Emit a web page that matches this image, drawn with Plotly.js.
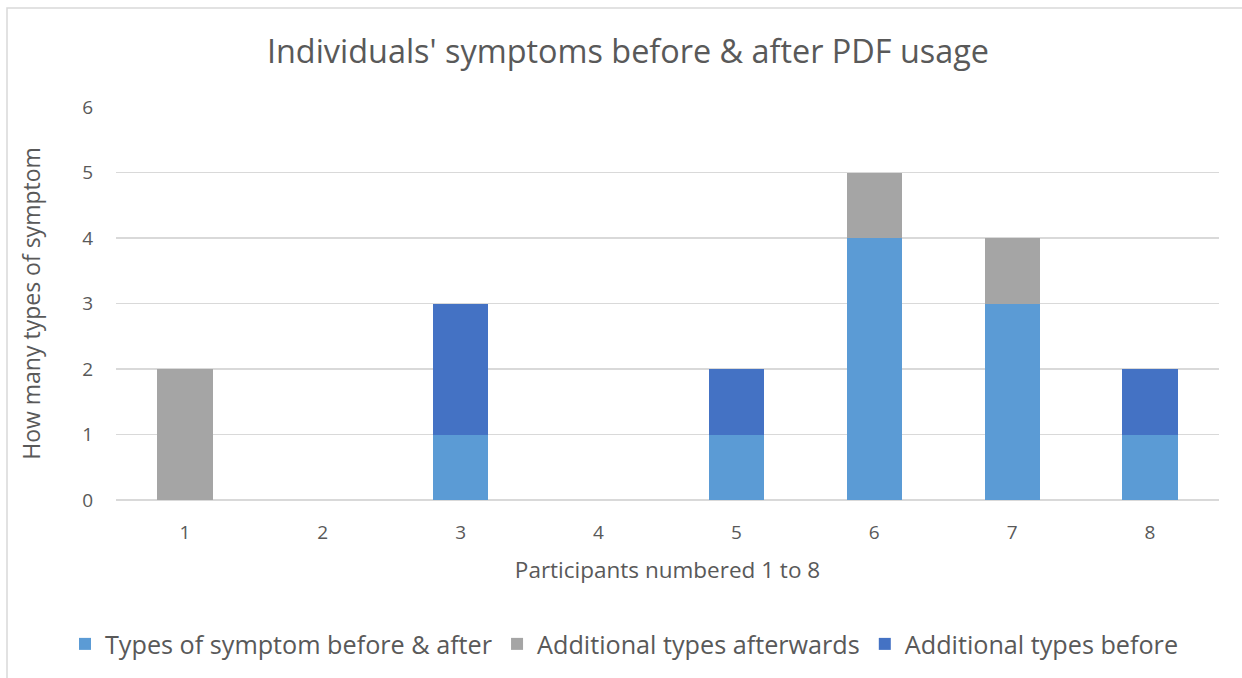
<!DOCTYPE html>
<html>
<head>
<meta charset="utf-8">
<script src="https://cdn.plot.ly/plotly-3.0.1.min.js"></script>
<style>html,body{margin:0;padding:0;background:#fff;}#chart{width:1242px;height:678px;}</style>
</head>
<body>
<div id="chart"></div>
<script>
var participants = ["1","2","3","4","5","6","7","8"];
var beforeAndAfter = [0, 0, 1, 0, 1, 4, 3, 1];
var additionalAfterwards = [2, 0, 0, 0, 0, 1, 1, 0];
var additionalBefore = [0, 0, 2, 0, 1, 0, 0, 1];
var seriesNames = ["Types of symptom before & after", "Additional types afterwards", "Additional types before"];
var seriesColors = ["#5B9BD5", "#A5A5A5", "#4472C4"];

var font = "Open Sans, Noto Sans, sans-serif";
var textColor = "#595959";

var traces = [beforeAndAfter, additionalAfterwards, additionalBefore].map(function(vals, i){
  return {type: "bar", x: participants, y: vals, name: seriesNames[i],
    marker: {color: seriesColors[i], line: {width: 0}}, hoverinfo: "x+y+name"};
});

var layout = {
  width: 1242, height: 678,
  paper_bgcolor: "#ffffff", plot_bgcolor: "#ffffff",
  barmode: "stack", bargap: 0.6,
  margin: {l: 116, r: 23, t: 107, b: 178, autoexpand: false},
  font: {family: font, color: textColor},
  title: {text: "Individuals' symptoms before & after PDF usage", font: {family: font, size: 32.4, color: textColor},
    x: 628/1242, xanchor: "center", xref: "container", y: 1 - 52/678, yref: "container", yanchor: "middle"},
  xaxis: {type: "category", showgrid: false, zeroline: false, showline: false,
    ticks: "outside", ticklen: 15, tickcolor: "rgba(0,0,0,0)",
    tickfont: {family: font, size: 19, color: textColor},
    title: {text: "Participants numbered 1 to 8", font: {family: font, size: 22.5, color: textColor}, standoff: 18}},
  yaxis: {range: [0, 6], dtick: 1, showgrid: true, gridcolor: "#D9D9D9", gridwidth: 1.5,
    zeroline: true, zerolinecolor: "#D9D9D9", zerolinewidth: 1.5, showline: false,
    ticks: "outside", ticklen: 18, tickcolor: "rgba(0,0,0,0)",
    tickfont: {family: font, size: 19, color: textColor},
    title: {text: "How many types of symptom", font: {family: font, size: 23, color: textColor}, standoff: 35}},
  legend: {orientation: "h", x: (65 - 116) / 1103, xanchor: "left", y: (500 - 644) / 393, yanchor: "middle",
    font: {family: font, size: 25.2, color: textColor}, traceorder: "normal", itemclick: false, itemwidth: 30},
  shapes: [{type: "rect", xref: "paper", yref: "paper", x0: (7 - 116) / 1103, x1: (1300 - 116) / 1103,
    y0: (500 - 700) / 393, y1: (500 - 8) / 393, line: {color: "#D9D9D9", width: 1.5}, fillcolor: "rgba(0,0,0,0)", layer: "below"}]
};

Plotly.newPlot("chart", traces, layout, {displayModeBar: false, staticPlot: true});
</script>
</body>
</html>
